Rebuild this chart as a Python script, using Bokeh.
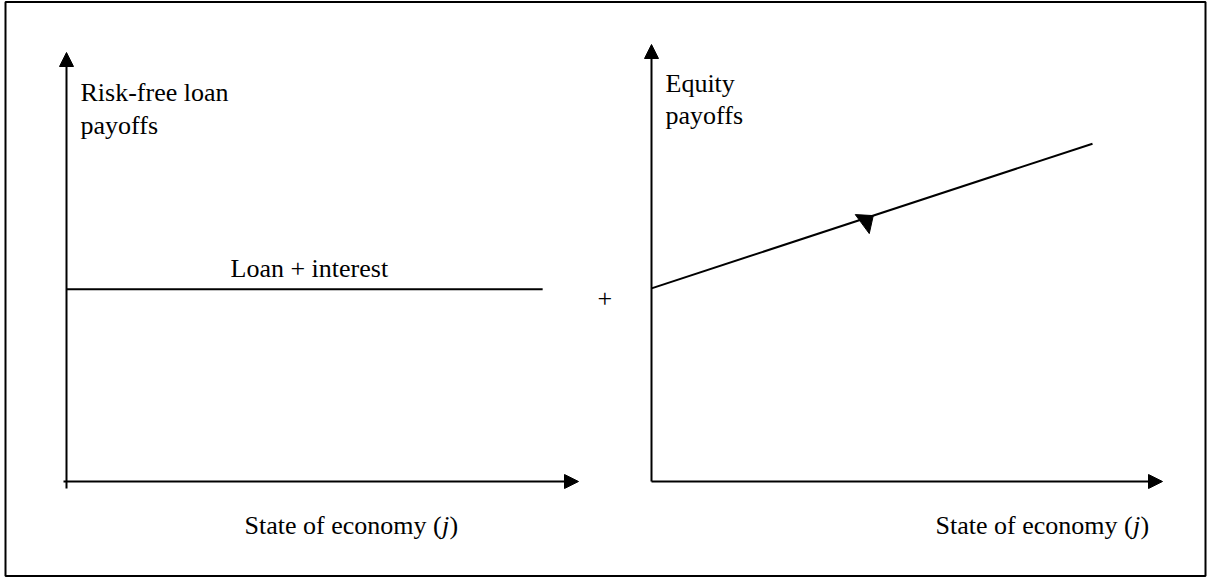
from bokeh.plotting import figure
from bokeh.models import Range1d, Arrow, NormalHead
from bokeh.core.properties import value
from bokeh.embed import file_html
from bokeh.resources import INLINE

# ---------------- data (normalised panel units: 0 = origin, 1 = arrow tip) ----------------
left_ylabel = ["Risk-free loan", "payoffs"]
right_ylabel = ["Equity", "payoffs"]
xlabel_text = "State of economy ("
xlabel_var = "j"
xlabel_close = ")"
loan_label = "Loan + interest"
plus_sign = "+"

loan_state = [0.0, 0.93]        # state of economy
loan_payoff = [0.448, 0.448]    # constant payoff
equity_state = [0.0, 0.863]
equity_payoff = [0.442, 0.773]  # rising payoff
equity_arrow_state = 0.434

# ---------------- layout / style ----------------
W, H = 1207, 577
FONT = "Liberation Serif"
FS = "26px"
panels = {
    "left": dict(x0=66, y0=481, lx=512, ly=429),
    "right": dict(x0=651, y0=481, lx=511, ly=437),
}

def to_px(panel, sx, sy):
    g = panels[panel]
    return ([g["x0"] + s * g["lx"] for s in sx], [g["y0"] - v * g["ly"] for v in sy])

p = figure(width=W, height=H, x_range=Range1d(0, W), y_range=Range1d(H, 0),
           output_backend="svg", toolbar_location=None, min_border=0)
p.axis.visible = False
p.grid.visible = False
p.outline_line_color = None
p.background_fill_color = "white"
p.border_fill_color = "white"

# outer border
p.quad(left=[5], right=[1205], top=[1.5], bottom=[575.5], fill_color=None,
       line_color="black", line_width=2)

# axes with arrows
for name, ext_y, ext_x in (("left", 7, 3), ("right", 0, 0)):
    g = panels[name]
    head = NormalHead(size=14, fill_color="black", line_color="black")
    p.add_layout(Arrow(x_start=g["x0"], y_start=g["y0"] + ext_y, x_end=g["x0"], y_end=g["y0"] - g["ly"],
                       line_width=2, line_color="black", end=head))
    head2 = NormalHead(size=14, fill_color="black", line_color="black")
    p.add_layout(Arrow(x_start=g["x0"] - ext_x, y_start=g["y0"], x_end=g["x0"] + g["lx"], y_end=g["y0"],
                       line_width=2, line_color="black", end=head2))

# payoff lines
lx, ly = to_px("left", loan_state, loan_payoff)
p.line(lx, ly, line_color="black", line_width=2)
ex, ey = to_px("right", equity_state, equity_payoff)
p.line(ex, ey, line_color="black", line_width=2)

# arrowhead on equity line
t = (equity_arrow_state - equity_state[0]) / (equity_state[1] - equity_state[0])
tx = ex[0] + t * (ex[1] - ex[0])
ty = ey[0] + t * (ey[1] - ey[0])
p.patch([tx, tx - 18, tx - 4], [ty, ty - 1, ty + 18], fill_color="black", line_color="black")

def txt(x, y, s, style="normal", align="left"):
    p.text(x=[x], y=[y], text=[s], text_font=value(FONT), text_font_size=FS,
           text_font_style=style, text_color="black", text_align=align,
           text_baseline="alphabetic")

# y labels
txt(80, 92, left_ylabel[0]); txt(80, 125, left_ylabel[1])
txt(665, 83, right_ylabel[0]); txt(665, 115, right_ylabel[1])
# line label and plus
txt(230, 268, loan_label)
txt(597, 298, plus_sign)
# x labels
for x0 in (244, 935):
    txt(x0, 525, xlabel_text)
    txt(x0 + 197.5, 525, xlabel_var, style="italic")
    txt(x0 + 205, 525, xlabel_close)

open("out.html", "w").write(file_html(p, INLINE))
